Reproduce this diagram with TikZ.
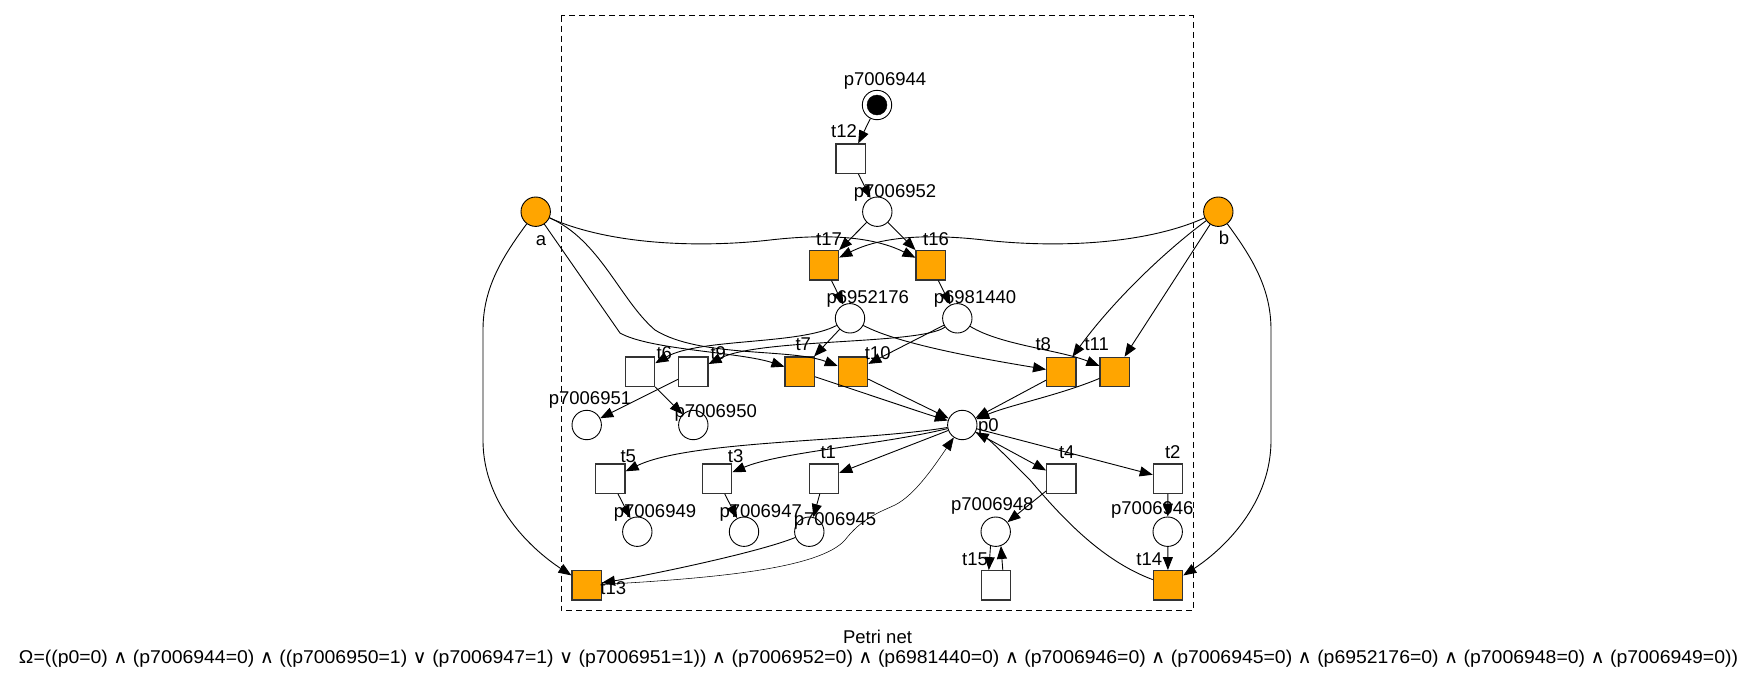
\documentclass[tikz,border=0pt]{standalone}
\usepackage{fontspec}
\setmainfont{Liberation Sans}
\newfontfamily\labfont{Liberation Sans}
\newfontfamily\symfont{DejaVu Sans}
\usetikzlibrary{arrows.meta}
\definecolor{gvorange}{HTML}{FFA500}
\newcommand{\myand}{{\symfont ∧}}
\newcommand{\myor}{{\symfont ∨}}
\begin{document}
\begin{tikzpicture}[x=1pt,y=-1pt,
  place/.style={circle,draw,minimum size=29.4pt,inner sep=0pt,line width=0.9pt},
  trans/.style={rectangle,draw=black!80,minimum size=29.4pt,inner sep=0pt,line width=1.1pt},
  hot/.style={fill=gvorange},
  lbl/.style={font=\labfont\fontsize{18.5pt}{22pt}\selectfont,inner sep=0pt,text height=13.2pt,text depth=0pt},
  arr/.style={-{Triangle[length=13pt,width=10pt]},line width=0.9pt},
  thinarr/.style={-{Triangle[length=13pt,width=10pt]},line width=0.55pt}]
\useasboundingbox (0,0) rectangle (1755,681);
\draw[dashed,dash pattern=on 6pt off 4pt,line width=0.9pt] (561,15.7) rectangle (1193,610.7);
% nodes
\node[place] (p7006944) at (877,105) {};
\node[circle,fill=black,draw,minimum size=20pt,inner sep=0pt] (tok) at (877,105) {};
\node[trans] (t12) at (850.7,158.7) {};
\node[place] (p7006952) at (877.3,211.7) {};
\node[place,hot] (a) at (535.7,211.7) {};
\node[place,hot] (b) at (1218.3,211.7) {};
\node[trans,hot] (t17) at (824,265.3) {};
\node[trans,hot] (t16) at (930.7,265.3) {};
\node[place] (p6952176) at (850,318.3) {};
\node[place] (p6981440) at (957.3,318.3) {};
\node[trans] (t6) at (640,371.7) {};
\node[trans] (t9) at (693.3,371.7) {};
\node[trans,hot] (t7) at (799.7,371.7) {};
\node[trans,hot] (t10) at (853,371.7) {};
\node[trans,hot] (t8) at (1061.3,372) {};
\node[trans,hot] (t11) at (1114.7,372) {};
\node[place] (p7006951) at (586.7,425) {};
\node[place] (p7006950) at (693.3,425) {};
\node[place] (p0) at (962.3,425) {};
\node[trans] (t5) at (610.3,478.7) {};
\node[trans] (t3) at (717,478.7) {};
\node[trans] (t1) at (824,478.7) {};
\node[trans] (t4) at (1061.3,478.7) {};
\node[trans] (t2) at (1168,478.7) {};
\node[place] (p7006949) at (637.3,531.7) {};
\node[place] (p7006947) at (744,531.7) {};
\node[place] (p7006945) at (809.3,531.7) {};
\node[place] (p7006948) at (995.7,531.7) {};
\node[place] (p7006946) at (1167.7,531.7) {};
\node[trans,hot] (t13) at (586.7,585.3) {};
\node[trans] (t15) at (995.8,585.3) {};
\node[trans,hot] (t14) at (1168,585.3) {};
% edges
\draw[arr] (p7006944) -- (t12);
\draw[arr] (t12) -- (p7006952);
\draw[arr] (p7006952) -- (t17);
\draw[arr] (p7006952) -- (t16);
\draw[arr] (t17) -- (p6952176);
\draw[arr] (t16) -- (p6981440);
\draw[arr] (a) .. controls (610,245) and (700,248) .. (770,240) .. controls (840,232) and (880,240) .. (t16);
\draw[arr] (b) .. controls (1144,245) and (1054,248) .. (984,240) .. controls (914,232) and (874,240) .. (t17);
\draw[arr] (a) -- (620,333) .. controls (650,350) and (740,352) .. (t7);
\draw[arr] (a) .. controls (600,240) and (620,300) .. (655,330) .. controls (700,358) and (790,348) .. (t10);
\draw[arr] (p6952176) .. controls (800,345) and (700,338) .. (t6);
\draw[arr] (p6981440) .. controls (920,345) and (760,338) .. (t9);
\draw[arr] (p6952176) -- (t7);
\draw[arr] (p6981440) -- (t10);
\draw[arr] (p6952176) .. controls (900,345) and (990,360) .. (t8);
\draw[arr] (p6981440) .. controls (1000,345) and (1060,350) .. (t11);
\draw[arr] (b) .. controls (1160,255) and (1110,305) .. (t8);
\draw[arr] (b) -- (t11);
\draw[arr] (a) .. controls (500,260) and (483,290) .. (483,330) -- (483,440) .. controls (483,510) and (540,555) .. (t13);
\draw[arr] (b) .. controls (1254,260) and (1271,290) .. (1271,330) -- (1271,440) .. controls (1271,510) and (1215,555) .. (t14);
\draw[arr] (t6) -- (p7006950);
\draw[arr] (t9) -- (p7006951);
\draw[arr] (t7) .. controls (870,395) and (920,412) .. (p0);
\draw[arr] (t10) -- (p0);
\draw[arr] (t8) -- (p0);
\draw[arr] (t11) .. controls (1060,395) and (1010,405) .. (p0);
\draw[arr] (p0) .. controls (860,442) and (690,440) .. (t5);
\draw[arr] (p0) .. controls (880,445) and (780,452) .. (t3);
\draw[arr] (p0) -- (t1);
\draw[arr] (p0) -- (t4);
\draw[arr] (p0) -- (t2);
\draw[arr] (t5) -- (p7006949);
\draw[arr] (t3) -- (p7006947);
\draw[arr] (t1) -- (p7006945);
\draw[arr] (t4) -- (p7006948);
\draw[arr] (t2) -- (p7006946);
\draw[arr] (p7006946) -- (t14);
\draw[arr] (p7006948.250) -- ([xshift=-7pt]t15.north);
\draw[arr] ([xshift=7pt]t15.north) -- (p7006948.290);
\draw[arr] (t14) .. controls (1100,560) and (1060,515) .. (1030,480) .. controls (1005,455) and (990,440) .. (p0);
\draw[arr] (p7006945) .. controls (760,552) and (650,575) .. (t13);
\draw[thinarr] (t13) .. controls (720,578) and (820,568) .. (845,540) .. controls (862,518) and (880,512) .. (895,505) .. controls (915,495) and (935,465) .. (p0);
% labels
\node[lbl] (lp7006944) at (885,79) {p7006944};
\node[lbl] (lt12) at (844,130.7) {t12};
\node[lbl] (lp7006952) at (895,191) {p7006952};
\node[lbl] (la) at (541,239) {a};
\node[lbl] (lb) at (1224,238.3) {b};
\node[lbl] (lt17) at (829,239) {t17};
\node[lbl] (lt16) at (936,239) {t16};
\node[lbl] (lp6952176) at (867.7,296.7) {p6952176};
\node[lbl] (lp6981440) at (975,296.7) {p6981440};
\node[lbl] (lt6) at (664.3,352.7) {t6};
\node[lbl] (lt9) at (718.3,352.7) {t9};
\node[lbl] (lt7) at (803.3,344.3) {t7};
\node[lbl] (lt10) at (877.7,352.7) {t10};
\node[lbl] (lt8) at (1043.3,344.3) {t8};
\node[lbl] (lt11) at (1096.7,344.3) {t11};
\node[lbl] (lp7006951) at (590,398) {p7006951};
\node[lbl] (lp7006950) at (715.7,410.7) {p7006950};
\node[lbl] (lp0) at (988.3,425) {p0};
\node[lbl] (lt5) at (628.3,456) {t5};
\node[lbl] (lt3) at (735.7,456) {t3};
\node[lbl] (lt1) at (828.3,451.7) {t1};
\node[lbl] (lt4) at (1066.7,451.7) {t4};
\node[lbl] (lt2) at (1172.7,451.7) {t2};
\node[lbl] (lp7006949) at (655,511) {p7006949};
\node[lbl] (lp7006947) at (760.7,511) {p7006947};
\node[lbl] (lp7006945) at (835,519.3) {p7006945};
\node[lbl] (lp7006948) at (992.3,504.3) {p7006948};
\node[lbl] (lp7006946) at (1152.3,508.3) {p7006946};
\node[lbl] (lt13) at (613.3,588.3) {t13};
\node[lbl] (lt15) at (975,559.3) {t15};
\node[lbl] (lt14) at (1149.3,559.3) {t14};
% caption
\node[lbl] (cap1) at (877.5,637) {Petri net};
\node[lbl] (cap2) at (878.5,657) {\resizebox{1719pt}{\height}{Ω=((p0=0) \myand{} (p7006944=0) \myand{} ((p7006950=1) \myor{} (p7006947=1) \myor{} (p7006951=1)) \myand{} (p7006952=0) \myand{} (p6981440=0) \myand{} (p7006946=0) \myand{} (p7006945=0) \myand{} (p6952176=0) \myand{} (p7006948=0) \myand{} (p7006949=0))}};
\end{tikzpicture}
\end{document}
